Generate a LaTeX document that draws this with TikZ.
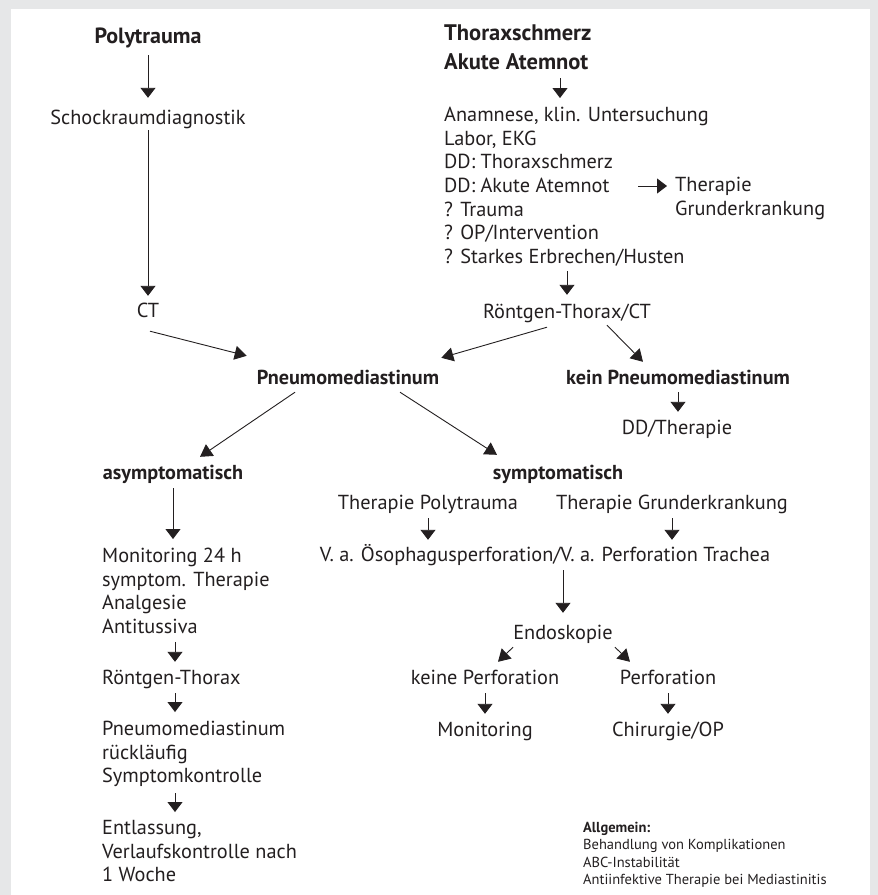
\documentclass[tikz,border=0pt]{standalone}
\usepackage{fontspec}
\setmainfont{PT Sans}
\usetikzlibrary{arrows.meta}
\definecolor{ink}{HTML}{231F20}
\definecolor{panelgray}{HTML}{E6E7E8}
\tikzset{
	txt/.style={font=\fontsize{20.3}{23.6}\selectfont, text=ink, inner sep=0pt, text height=14pt, text depth=4pt},
	bigbold/.style={font=\fontsize{22}{29}\selectfont\bfseries, text=ink, inner sep=0pt, text height=16pt, text depth=5pt},
	midbold/.style={font=\fontsize{20.2}{23.6}\selectfont\bfseries, text=ink, inner sep=0pt, text height=14pt, text depth=4pt},
	blk/.style={font=\fontsize{20.3}{23.6}\selectfont, text=ink, inner sep=0pt, align=left, anchor=north west},
	arr/.style={draw=ink, line width=0.9pt, -{Triangle[width=15pt,length=10pt]}, shorten <=5pt, shorten >=8pt},
	diag/.style={draw=ink, line width=0.9pt, -{Triangle[width=14pt,length=12pt]}}
}
\begin{document}
\begin{tikzpicture}[x=1pt, y=-1pt]
	\fill[panelgray] (0,0) rectangle (878,895);
	\fill[white] (11,9) rectangle (870,895);

	% left branch
	\node[bigbold] (poly) at (148,38) {Polytrauma};
	\node[txt] (schock) at (148,119) {Schockraumdiagnostik};
	\node[txt] (ct) at (148,312) {CT};

	% right branch
	\node[blk, font=\fontsize{22.5}{29}\selectfont\bfseries] (thorax) at (444,25) {Thoraxschmerz\\Akute Atemnot};
	\node[blk] (anam) at (444,107) {Anamnese, klin. Untersuchung\\Labor, EKG\\DD: Thoraxschmerz\\DD: Akute Atemnot\\? Trauma\\? OP/Intervention\\? Starkes Erbrechen/Husten};
	\node[blk] (ther) at (675,177) {Therapie\\Grunderkrankung};
	\node[txt] (roent) at (567,313) {Röntgen-Thorax/CT};

	\node[midbold] (pneumo) at (348,379) {Pneumomediastinum};
	\node[midbold] (kein) at (678,379) {kein Pneumomediastinum};
	\node[txt] (ddther) at (677,429) {DD/Therapie};

	% asymptomatisch
	\node[midbold] (asym) at (173,474) {asymptomatisch};
	\node[blk] (mon) at (102,548) {Monitoring 24 h\\symptom. Therapie\\Analgesie\\Antitussiva};
	\node[txt, anchor=west] (rx) at (102,679) {Röntgen-Thorax};
	\node[blk] (pm) at (102,721) {Pneumomediastinum\\rückläufig\\Symptomkontrolle};
	\node[blk] (ent) at (102,820) {Entlassung,\\Verlaufskontrolle nach\\1 Woche};

	% symptomatisch
	\node[midbold] (sym) at (558,474) {symptomatisch};
	\node[txt] (thpoly) at (428,504) {Therapie Polytrauma};
	\node[txt] (thgrund) at (672,504) {Therapie Grunderkrankung};
	\node[txt] (va) at (545,556) {V. a. Ösophagusperforation/V. a. Perforation Trachea};
	\node[txt] (endo) at (563,634) {Endoskopie};
	\node[txt] (keine) at (485,679) {keine Perforation};
	\node[txt] (perf) at (668,679) {Perforation};
	\node[txt] (moni) at (485,731) {Monitoring};
	\node[txt] (chir) at (668,731) {Chirurgie/OP};

	\node[blk, font=\fontsize{14.5}{17.3}\selectfont] (allg) at (583,822) {\textbf{Allgemein:}\\Behandlung von Komplikationen\\ABC-Instabilität\\Antiinfektive Therapie bei Mediastinitis};

	\draw[arr, shorten <=6.5pt, shorten >=12pt] (poly.south) -- (schock.north);
	\draw[arr, shorten <=2pt, shorten >=7pt] (schock.south) -- (ct.north);
	\draw[arr, shorten <=8pt, shorten >=9pt] ([xshift=116pt]thorax.south west) -- ([xshift=116pt]anam.north west);
	\draw[arr, shorten <=0pt, shorten >=0pt] ([xshift=194pt,yshift=-79pt]anam.north west) -- ([xshift=-8pt,yshift=-9pt]ther.north west);
	\draw[arr, shorten >=9pt] (anam.south -| roent.north) -- (roent.north);
	\draw[diag] ([xshift=2pt,yshift=-10pt]ct.south) -- ([xshift=-10pt,yshift=14pt]pneumo.north west);
	\draw[diag] ([xshift=-20pt,yshift=-5pt]roent.south) -- ([xshift=2pt,yshift=12pt]pneumo.north east);
	\draw[diag] ([xshift=40pt,yshift=-3pt]roent.south) -- ([xshift=-35pt,yshift=8pt]kein.north);
	\draw[arr, shorten <=4pt] (kein.south) -- (kein.south |- ddther.north);
	\draw[diag] ([xshift=-53pt,yshift=-4pt]pneumo.south) -- ([xshift=27pt,yshift=8pt]asym.north);
	\draw[diag] ([xshift=52pt,yshift=-4pt]pneumo.south) -- ([xshift=-61pt,yshift=10pt]sym.north);

	\draw[arr, shorten >=9pt] (asym.south) -- (asym.south |- mon.north);
	\draw[arr, shorten <=8pt] ([xshift=73pt]mon.south west) -- ([xshift=73pt]rx.north west);
	\draw[arr, shorten >=9pt] ([xshift=73pt]rx.south west) -- ([xshift=73pt]pm.north west);
	\draw[arr, shorten <=6pt] ([xshift=73pt]pm.south west) -- ([xshift=73pt]ent.north west);

	\draw[arr, shorten >=7pt] (thpoly.south) -- (thpoly.south |- va.north);
	\draw[arr, shorten >=7pt] (thgrund.south) -- (thgrund.south |- va.north);
	\draw[arr, shorten >=12pt] (endo.north |- va.south) -- (endo.north);
	\draw[diag] ([xshift=-50pt,yshift=-4pt]endo.south) -- ([xshift=13pt,yshift=8pt]keine.north);
	\draw[diag] ([xshift=52pt,yshift=-4pt]endo.south) -- ([xshift=-38pt,yshift=8pt]perf.north);
	\draw[arr] (keine.south) -- (moni.north);
	\draw[arr] (perf.south) -- (chir.north);
\end{tikzpicture}
\end{document}
